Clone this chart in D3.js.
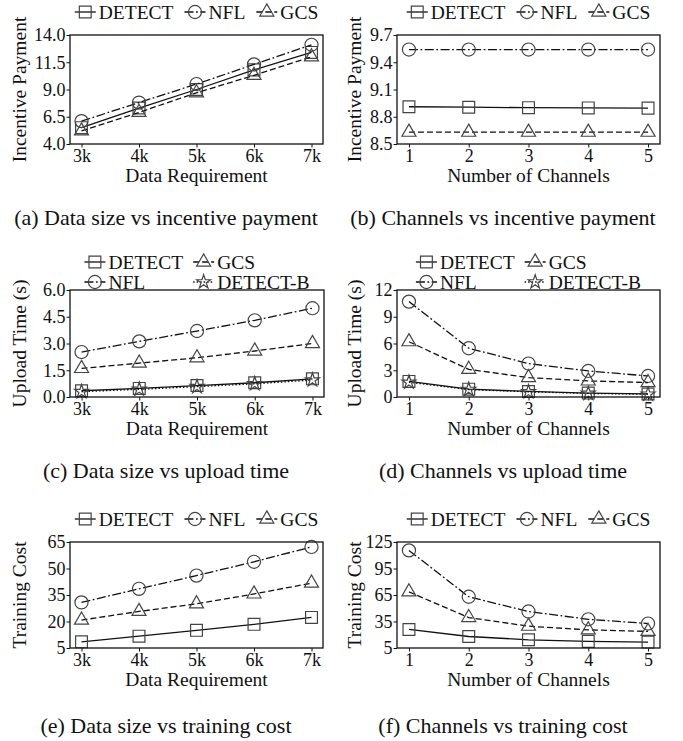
<!DOCTYPE html>
<html>
<head>
<meta charset="utf-8">
<script src="https://cdn.jsdelivr.net/npm/d3@7"></script>
<style>
    body { margin: 0; background: #fff; }
    svg { display: block; font-family: "Liberation Serif", "Times New Roman", serif; }
</style>
</head>
<body>
<div id="chart"></div>
<script>
// categories
const dataSizes = ["3k", "4k", "5k", "6k", "7k"];
const channels = ["1", "2", "3", "4", "5"];

// (a) data size vs incentive payment
const payDetectSize = [5.5, 7.3, 9.0, 10.8, 12.4];
const payNflSize = [6.1, 7.8, 9.5, 11.3, 13.1];
const payGcsSize = [5.2, 6.9, 8.7, 10.3, 12.0];

// (b) channels vs incentive payment
const payDetectCh = [8.91, 8.905, 8.90, 8.897, 8.895];
const payNflCh = [9.54, 9.54, 9.54, 9.54, 9.54];
const payGcsCh = [8.63, 8.63, 8.63, 8.63, 8.63];

// (c) data size vs upload time
const upDetectSize = [0.35, 0.48, 0.64, 0.80, 1.02];
const upNflSize = [2.52, 3.12, 3.70, 4.30, 4.98];
const upGcsSize = [1.60, 1.90, 2.20, 2.58, 3.00];
const upDetectBSize = [0.30, 0.43, 0.58, 0.74, 0.95];

// (d) channels vs upload time
const upDetectCh = [1.75, 0.88, 0.62, 0.44, 0.34];
const upNflCh = [10.7, 5.47, 3.75, 2.92, 2.36];
const upGcsCh = [6.2, 3.1, 2.17, 1.8, 1.62];
const upDetectBCh = [1.65, 0.84, 0.58, 0.40, 0.31];

// (e) data size vs training cost
const costDetectSize = [8.5, 11.7, 15.0, 18.4, 22.3];
const costNflSize = [30.8, 38.5, 46.0, 53.8, 62.2];
const costGcsSize = [20.8, 25.7, 30.0, 35.6, 41.7];

// (f) channels vs training cost
const costDetectCh = [26, 18, 14.3, 12.5, 11.7];
const costNflCh = [115.5, 63, 46.3, 37.5, 32.7];
const costGcsCh = [68.5, 39.5, 29.7, 25.5, 23.8];

// tick labels
const payTicksSize = [4, 6.5, 9, 11.5, 14];
const payTicksCh = [8.5, 8.8, 9.1, 9.4, 9.7];
const upTicksSize = [0, 1.5, 3, 4.5, 6];
const upTicksCh = [0, 3, 6, 9, 12];
const costTicksSize = [5, 20, 35, 50, 65];
const costTicksCh = [5, 35, 65, 95, 125];

// styling
const width = 683, height = 741;
const ink = "#111";
const markInk = "#444";
const tickFont = 18, titleFont = 19.5, legendFont = 19.5, captionFont = 22;

const styles = {
    "DETECT": {dash: null, symbol: d3.symbolSquare, size: 140},
    "NFL": {dash: "9,2.5,1.8,2.5", symbol: d3.symbolCircle, size: 135},
    "GCS": {dash: "6,3", symbol: d3.symbolTriangle, size: 85},
    "DETECT-B": {dash: "1.5,2", symbol: d3.symbolStar, size: 60}
};

const panels = [
    {x0: 70, x1: 323, y0: 35, y1: 144, cats: dataSizes, ticks: payTicksSize, fmt: ".1f",
        yLabel: "Incentive Payment", xLabel: "Data Requirement", yLabelOff: 44,
        series: [["DETECT", payDetectSize], ["NFL", payNflSize], ["GCS", payGcsSize]],
        rows: 1, caption: "(a) Data size vs incentive payment", capX: 166, capY: 225},
    {x0: 397, x1: 660, y0: 35, y1: 144, cats: channels, ticks: payTicksCh, fmt: ".1f",
        yLabel: "Incentive Payment", xLabel: "Number of Channels", yLabelOff: 36,
        series: [["DETECT", payDetectCh], ["NFL", payNflCh], ["GCS", payGcsCh]],
        rows: 1, caption: "(b) Channels vs incentive payment", capX: 503, capY: 225},
    {x0: 70, x1: 324, y0: 290, y1: 397, cats: dataSizes, ticks: upTicksSize, fmt: ".1f",
        yLabel: "Upload Time (s)", xLabel: "Data Requirement", yLabelOff: 44,
        series: [["DETECT", upDetectSize], ["NFL", upNflSize], ["GCS", upGcsSize], ["DETECT-B", upDetectBSize]],
        rows: 2, caption: "(c) Data size vs upload time", capX: 166, capY: 478},
    {x0: 397, x1: 660, y0: 290, y1: 397, cats: channels, ticks: upTicksCh, fmt: "d",
        yLabel: "Upload Time (s)", xLabel: "Number of Channels", yLabelOff: 36,
        series: [["DETECT", upDetectCh], ["NFL", upNflCh], ["GCS", upGcsCh], ["DETECT-B", upDetectBCh]],
        rows: 2, caption: "(d) Channels vs upload time", capX: 503, capY: 478},
    {x0: 70, x1: 323, y0: 542, y1: 648, cats: dataSizes, ticks: costTicksSize, fmt: "d",
        yLabel: "Training Cost", xLabel: "Data Requirement", yLabelOff: 44,
        series: [["DETECT", costDetectSize], ["NFL", costNflSize], ["GCS", costGcsSize]],
        rows: 1, caption: "(e) Data size vs training cost", capX: 166, capY: 733},
    {x0: 397, x1: 660, y0: 542, y1: 648, cats: channels, ticks: costTicksCh, fmt: "d",
        yLabel: "Training Cost", xLabel: "Number of Channels", yLabelOff: 36,
        series: [["DETECT", costDetectCh], ["NFL", costNflCh], ["GCS", costGcsCh]],
        rows: 1, caption: "(f) Channels vs training cost", capX: 503, capY: 733}
];

const svg = d3.select("#chart").append("svg")
    .attr("width", width)
    .attr("height", height);

function drawHandle(g, name, x, y) {
    const st = styles[name];
    g.append("line")
        .attr("x1", x).attr("x2", x + 21)
        .attr("y1", y).attr("y2", y)
        .attr("stroke", ink).attr("stroke-width", 1.3)
        .attr("stroke-dasharray", st.dash);
    g.append("path")
        .attr("d", d3.symbol(st.symbol, st.size)())
        .attr("transform", `translate(${x + 10.5} ${y})`)
        .attr("fill", "none").attr("stroke", markInk).attr("stroke-width", 1.2);
}

function textWidth(g, str) {
    const t = g.append("text").attr("font-size", legendFont).text(str);
    const w = t.node().getComputedTextLength();
    t.remove();
    return w;
}

panels.forEach(p => {
    const g = svg.append("g");

    const x = d3.scalePoint()
        .domain(p.cats)
        .range([p.x0, p.x1])
        .padding(0.2);

    const y = d3.scaleLinear()
        .domain(d3.extent(p.ticks))
        .range([p.y1, p.y0]);

    // axes (drop d3's default sans-serif so the serif face is inherited)
    g.append("g")
        .attr("transform", `translate(0 ${p.y1})`)
        .call(d3.axisBottom(x).tickSize(3.5).tickPadding(2))
        .attr("font-family", null)
        .attr("font-size", tickFont)
        .call(a => a.select(".domain").remove())
        .call(a => a.selectAll("line").attr("stroke", ink))
        .call(a => a.selectAll("text").attr("fill", ink));

    g.append("g")
        .attr("transform", `translate(${p.x0} 0)`)
        .call(d3.axisLeft(y).tickValues(p.ticks).tickFormat(d3.format(p.fmt)).tickSize(3.5).tickPadding(1))
        .attr("font-family", null)
        .attr("font-size", tickFont)
        .call(a => a.select(".domain").remove())
        .call(a => a.selectAll("line").attr("stroke", ink))
        .call(a => a.selectAll("text").attr("fill", ink));

    // series
    p.series.forEach(([name, vals]) => {
        const st = styles[name];
        const pts = vals.map((v, i) => [x(p.cats[i]), y(v)]);
        g.append("path")
            .attr("d", d3.line()(pts))
            .attr("fill", "none")
            .attr("stroke", ink)
            .attr("stroke-width", 1.3)
            .attr("stroke-dasharray", st.dash);
        g.selectAll(null)
            .data(pts)
            .join("path")
            .attr("d", d3.symbol(st.symbol, st.size)())
            .attr("transform", d => `translate(${d[0]} ${d[1]})`)
            .attr("fill", "none")
            .attr("stroke", markInk)
            .attr("stroke-width", 1.2);
    });

    // frame
    g.append("rect")
        .attr("x", p.x0).attr("y", p.y0)
        .attr("width", p.x1 - p.x0).attr("height", p.y1 - p.y0)
        .attr("fill", "none").attr("stroke", ink).attr("stroke-width", 1.3);

    // axis titles
    g.append("text")
        .attr("x", (p.x0 + p.x1) / 2)
        .attr("y", p.y1 + 38)
        .attr("text-anchor", "middle")
        .attr("font-size", titleFont)
        .attr("fill", ink)
        .text(p.xLabel);

    g.append("text")
        .attr("transform", `translate(${p.x0 - p.yLabelOff} ${(p.y0 + p.y1) / 2}) rotate(-90)`)
        .attr("text-anchor", "middle")
        .attr("font-size", titleFont)
        .attr("fill", ink)
        .text(p.yLabel);

    // legend
    const leg = g.append("g");
    const cx = (p.x0 + p.x1) / 2;
    const names = p.series.map(d => d[0]);
    if (p.rows === 1) {
        const ws = names.map(n => textWidth(leg, n));
        const total = d3.sum(ws) + names.length * 24 + (names.length - 1) * 11;
        let lx = cx - total / 2;
        const ly = p.y0 - 23;
        names.forEach((n, i) => {
            drawHandle(leg, n, lx, ly);
            leg.append("text")
                .attr("x", lx + 24).attr("y", ly)
                .attr("dy", "0.34em")
                .attr("font-size", legendFont)
                .attr("fill", ink)
                .text(n);
            lx += 24 + ws[i] + 11;
        });
    } else {
        // two columns, filled column by column
        const cols = [["DETECT", "NFL"], ["GCS", "DETECT-B"]];
        const colW = cols.map(c => d3.max(c, n => textWidth(leg, n)) + 24);
        const total = colW[0] + 10 + colW[1];
        const left = cx - total / 2;
        cols.forEach((c, ci) => {
            const lx = ci === 0 ? left : left + colW[0] + 10;
            c.forEach((n, ri) => {
                const ly = p.y0 - 28 + ri * 20;
                drawHandle(leg, n, lx, ly);
                leg.append("text")
                    .attr("x", lx + 24).attr("y", ly)
                    .attr("dy", "0.34em")
                    .attr("font-size", legendFont)
                    .attr("fill", ink)
                    .text(n);
            });
        });
    }

    // caption
    svg.append("text")
        .attr("x", p.capX)
        .attr("y", p.capY)
        .attr("text-anchor", "middle")
        .attr("font-size", captionFont)
        .attr("fill", ink)
        .text(p.caption);
});
</script>
</body>
</html>
